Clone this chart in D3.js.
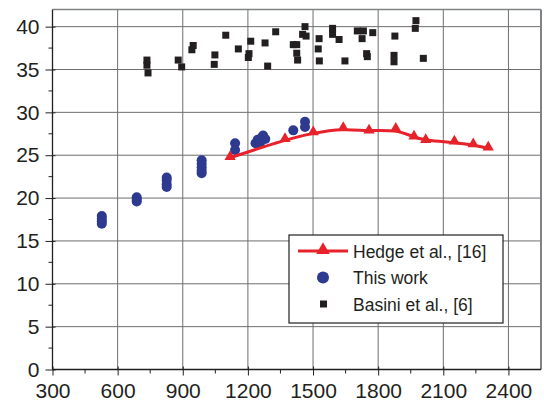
<!DOCTYPE html>
<html>
<head>
<meta charset="utf-8">
<script src="https://cdn.jsdelivr.net/npm/d3@7"></script>
<style>
  body { margin: 0; background: #fff; }
  text { font-family: "Liberation Sans", Arial, sans-serif; fill: #231f20; }
</style>
</head>
<body>
<svg id="chart" width="544" height="403"></svg>
<script>
// data
const hedgeX = [1118, 1371, 1501, 1639, 1758, 1881, 1965, 2019, 2151, 2238, 2307];
const hedgeY = [24.7, 26.8, 27.6, 28.1, 27.8, 28.0, 27.1, 26.7, 26.5, 26.2, 25.8];

const workX = [527, 527, 527, 527, 688, 688, 688, 826, 826, 826, 826,
               987, 987, 987, 987, 987, 1141, 1141, 1235, 1245, 1255, 1262, 1270, 1280, 1409, 1463, 1463];
const workY = [17.9, 17.6, 17.3, 17.0, 20.1, 19.8, 19.6, 22.4, 22.1, 21.6, 21.3,
               24.4, 24.0, 23.6, 23.2, 22.9, 26.4, 25.6, 26.4, 26.8, 26.3, 27.0, 27.3, 26.9, 27.9, 28.9, 28.3];

const basiniX = [735, 735, 740, 879, 895, 948, 942, 1048, 1045, 1098, 1156, 1213, 1205, 1202, 1291, 1279,
                 1328, 1409, 1425, 1425, 1429, 1463, 1452, 1468, 1528, 1524, 1529, 1590, 1590, 1620, 1647,
                 1704, 1732, 1726, 1775, 1747, 1750, 1877, 1873, 1873, 1974, 1971, 2008];
const basiniY = [36.1, 35.5, 34.6, 36.1, 35.3, 37.8, 37.3, 36.7, 35.6, 39.0, 37.4, 38.3, 36.85, 36.4, 35.4, 38.1,
                 39.4, 37.9, 37.9, 36.9, 36.1, 40.0, 39.1, 38.9, 38.6, 37.4, 36.0, 39.8, 39.1, 38.5, 36.0,
                 39.5, 39.5, 38.6, 39.3, 36.85, 36.5, 38.9, 36.65, 35.9, 40.7, 39.8, 36.3];

const xTicks = [300, 600, 900, 1200, 1500, 1800, 2100, 2400];
const yTicks = [0, 5, 10, 15, 20, 25, 30, 35, 40];
const legendLabels = ["Hedge et al., [16]", "This work", "Basini et al., [6]"];

const red = "#e8222b", blue = "#2e3a8f", black = "#231f20";

const pL = 52.5, pR = 541, pT = 9.5, pB = 369.5;
const x = d3.scaleLinear().domain([300, 2550]).range([pL, pR]);
const y = d3.scaleLinear().domain([0, 42]).range([pB, pT]);

const svg = d3.select("#chart");

// grid
svg.append("g").selectAll("line").data(xTicks.slice(1)).enter().append("line")
  .attr("x1", d => x(d)).attr("x2", d => x(d)).attr("y1", pT).attr("y2", pB)
  .attr("stroke", "#6d6e70").attr("stroke-width", 1);
svg.append("g").selectAll("line").data(yTicks.slice(1)).enter().append("line")
  .attr("x1", pL).attr("x2", pR).attr("y1", d => y(d)).attr("y2", d => y(d))
  .attr("stroke", "#6d6e70").attr("stroke-width", 1);

// frame top/right
svg.append("line").attr("x1", pL).attr("x2", pR).attr("y1", pT).attr("y2", pT)
  .attr("stroke", "#808285").attr("stroke-width", 1.5);
svg.append("line").attr("x1", pR).attr("x2", pR).attr("y1", pT).attr("y2", pB)
  .attr("stroke", "#808285").attr("stroke-width", 2);

// axes
const xAxis = svg.append("g").attr("transform", `translate(0,${pB})`)
  .call(d3.axisBottom(x).tickValues(xTicks).tickSize(6).tickPadding(8).tickFormat(d3.format("d")));
xAxis.selectAll(".tick line").attr("y1", -3);
xAxis.append("g").selectAll("line").data(d3.range(450, 2550, 300)).enter().append("line")
  .attr("x1", d => x(d)).attr("x2", d => x(d)).attr("y1", 0).attr("y2", 4).attr("stroke", black);

const yAxis = svg.append("g").attr("transform", `translate(${pL},0)`)
  .call(d3.axisLeft(y).tickValues(yTicks).tickSize(7).tickPadding(6));
yAxis.selectAll(".tick line").attr("x1", 3);
yAxis.append("g").selectAll("line").data(d3.range(2.5, 42, 5)).enter().append("line")
  .attr("y1", d => y(d)).attr("y2", d => y(d)).attr("x1", 0).attr("x2", -4).attr("stroke", black);

svg.selectAll(".domain").attr("stroke", black).attr("stroke-width", 1.3);
svg.selectAll(".tick line").attr("stroke", black);
svg.selectAll(".tick text").attr("font-size", 21).attr("fill", black)
  .attr("font-family", "'Liberation Sans', Arial, sans-serif");
xAxis.select(".domain").attr("d", `M${pL},0H${pR}`);
yAxis.select(".domain").attr("d", `M0,${pB}V${pT}`);

// Basini squares
const sq = 7;
svg.append("g").selectAll("rect").data(basiniX).enter().append("rect")
  .attr("x", (d, i) => x(d) - sq / 2).attr("y", (d, i) => y(basiniY[i]) - sq / 2)
  .attr("width", sq).attr("height", sq).attr("fill", black);

// This work circles
svg.append("g").selectAll("circle").data(workX).enter().append("circle")
  .attr("cx", d => x(d)).attr("cy", (d, i) => y(workY[i])).attr("r", 5).attr("fill", blue);

// Hedge line + triangles
const tri = d3.symbol().type(d3.symbolTriangle).size(55);
const hedge = hedgeX.map((d, i) => [d, hedgeY[i]]);
svg.append("path").datum(hedge)
  .attr("d", d3.line().x(d => x(d[0])).y(d => y(d[1])).curve(d3.curveBasis))
  .attr("fill", "none").attr("stroke", red).attr("stroke-width", 3);
svg.append("g").selectAll("path").data(hedge).enter().append("path")
  .attr("d", tri).attr("transform", d => `translate(${x(d[0])},${y(d[1]) - 1})`).attr("fill", red);

// legend
const lg = svg.append("g").attr("transform", "translate(289,235)");
lg.append("rect").attr("width", 214).attr("height", 88)
  .attr("fill", "#fff").attr("stroke", black).attr("stroke-width", 1.2);
const rows = [16, 42.5, 69];
lg.selectAll("text").data(legendLabels).enter().append("text")
  .attr("x", 64).attr("y", (d, i) => rows[i] + 6.5).attr("font-size", 17.5).text(d => d);
lg.append("line").attr("x1", 9).attr("x2", 59).attr("y1", rows[0]).attr("y2", rows[0])
  .attr("stroke", red).attr("stroke-width", 3);
lg.append("path").attr("d", d3.symbol().type(d3.symbolTriangle).size(80))
  .attr("transform", `translate(34,${rows[0] - 1})`).attr("fill", red);
lg.append("circle").attr("cx", 34).attr("cy", rows[1]).attr("r", 6).attr("fill", blue);
lg.append("rect").attr("x", 31).attr("y", rows[2] - 3.5).attr("width", 7).attr("height", 7).attr("fill", black);
</script>
</body>
</html>
